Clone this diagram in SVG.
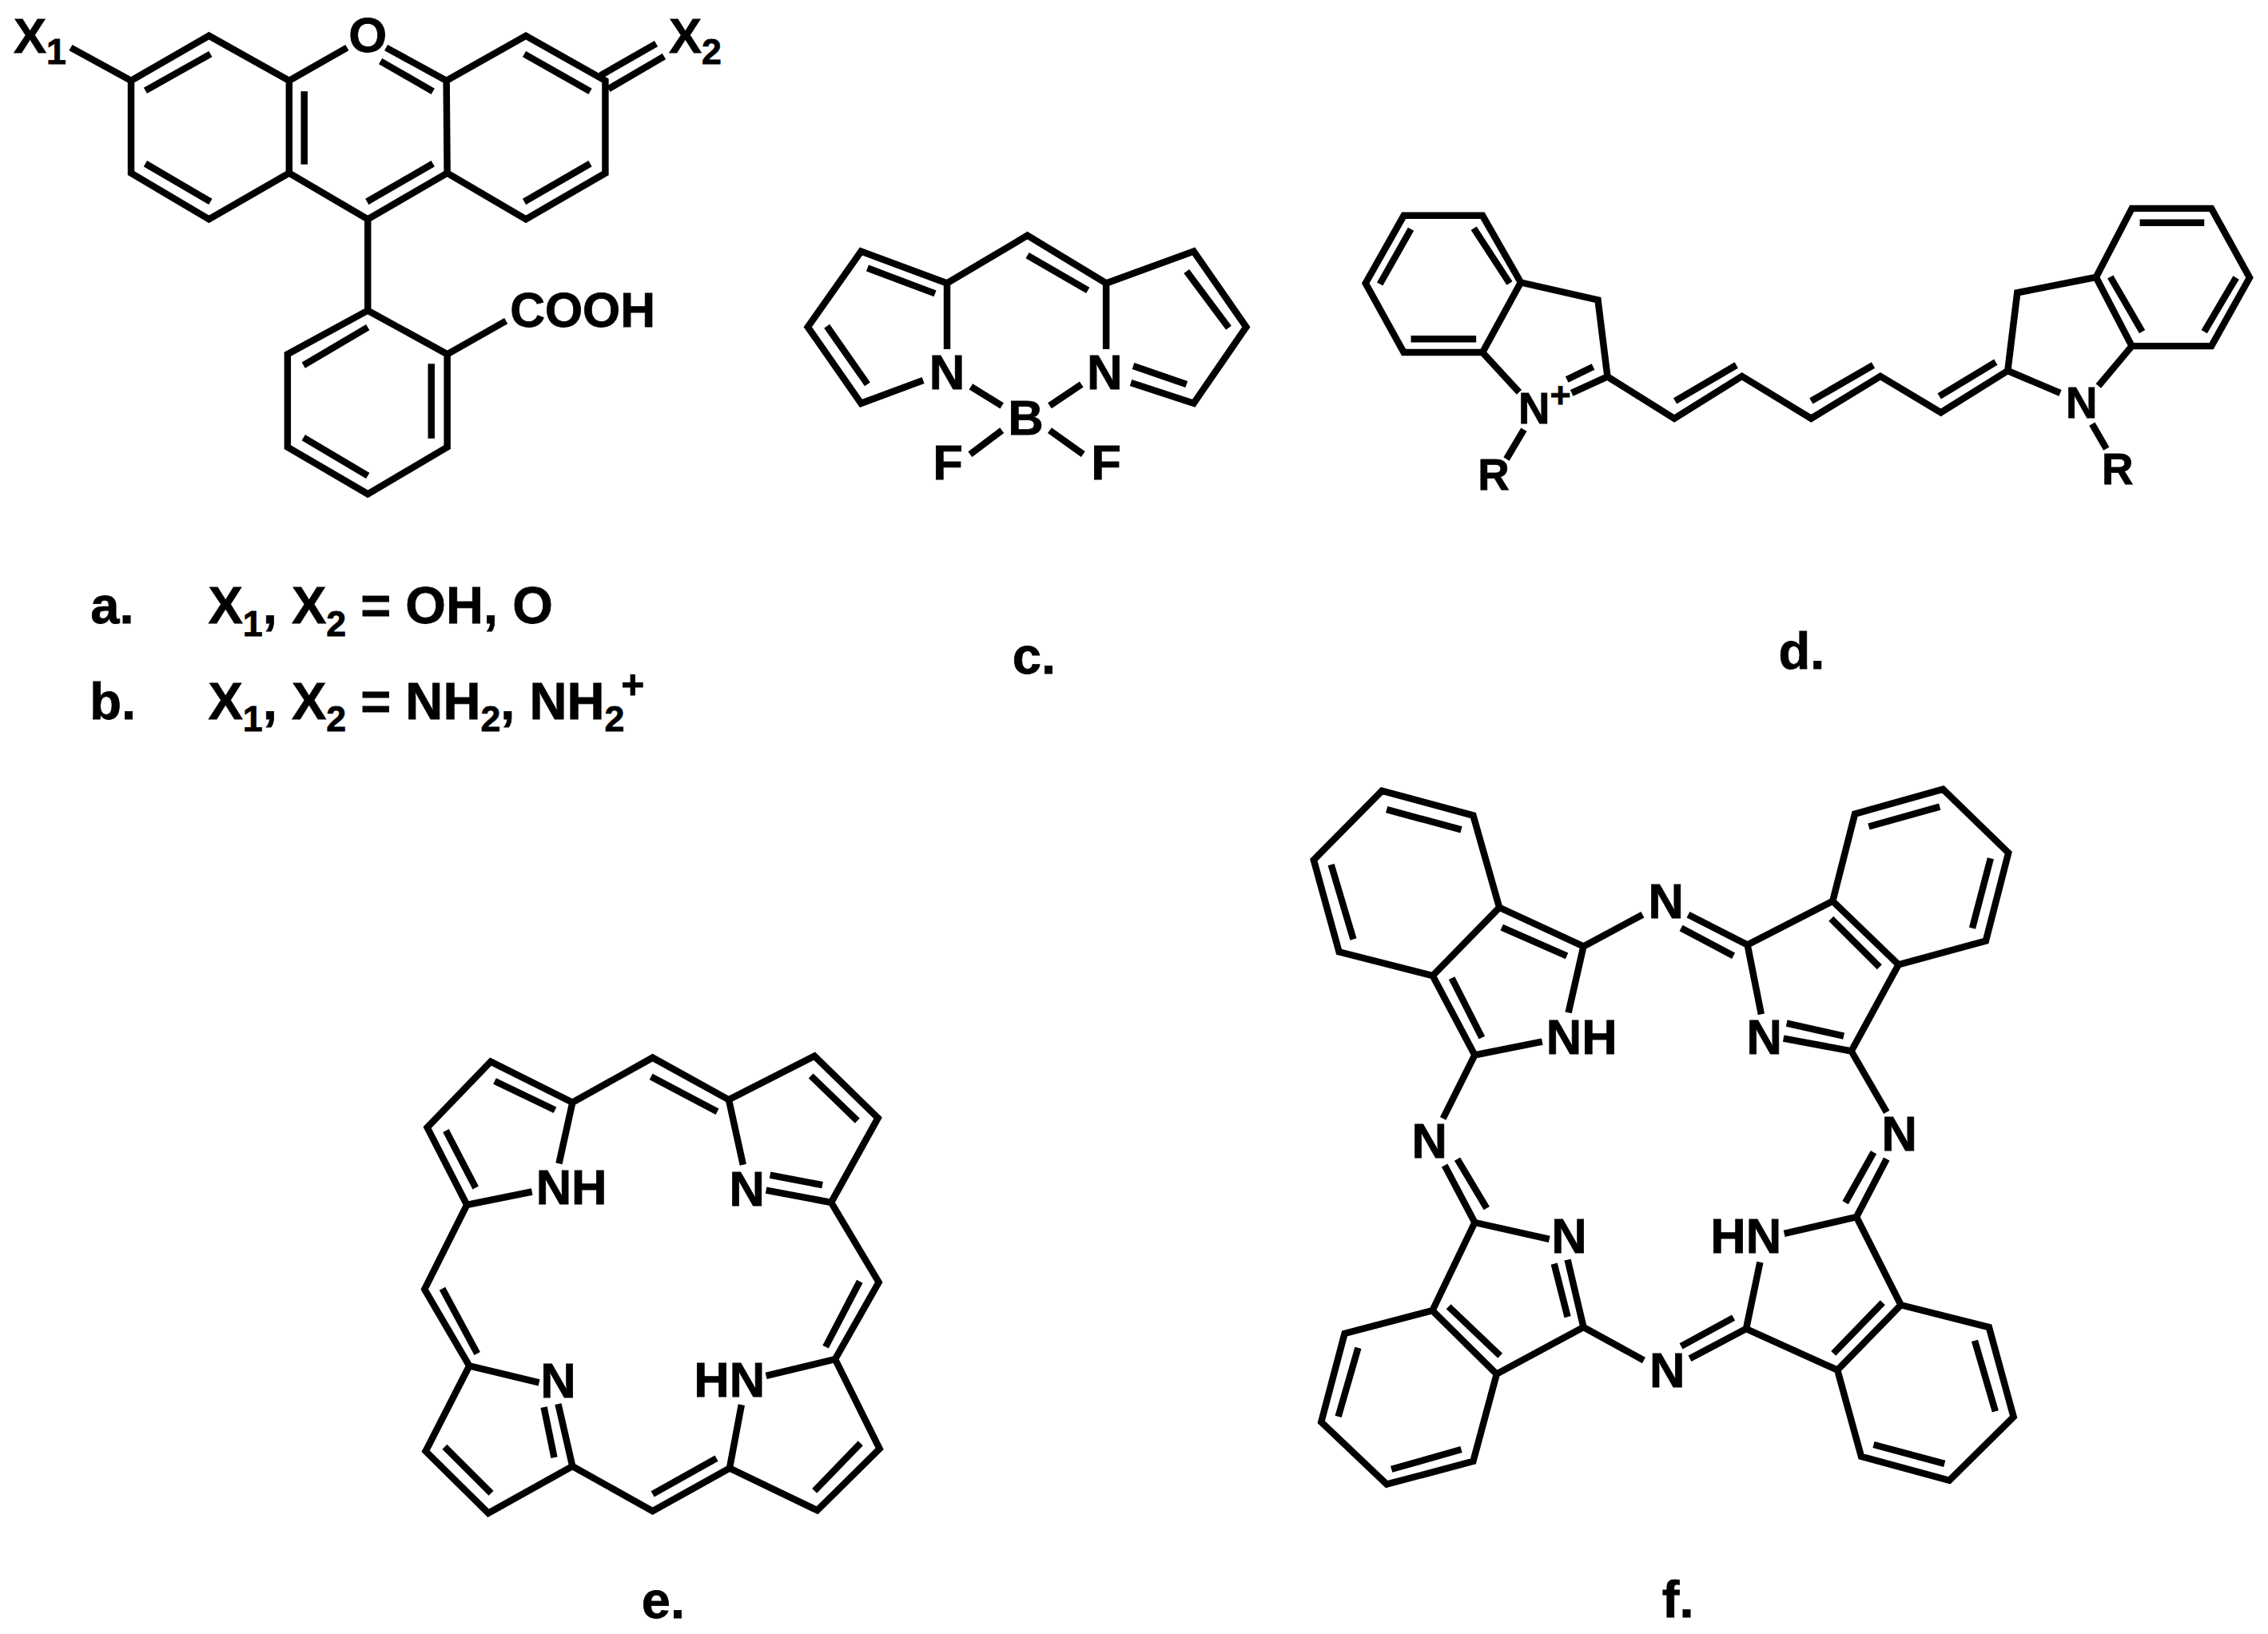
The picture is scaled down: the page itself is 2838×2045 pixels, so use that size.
<svg xmlns="http://www.w3.org/2000/svg" width="2838" height="2045" viewBox="0 0 2838 2045">
<style>
.b{fill:none;stroke:#000;stroke-width:8.5;stroke-linejoin:miter;stroke-linecap:butt}
text{font-family:"Liberation Sans",Arial,sans-serif;font-weight:700;fill:#000;stroke:#000;stroke-width:.8;font-size:62px}
.m{text-anchor:middle}
.c{font-size:65.5px}
.d{font-size:55px}
.s{font-size:45px}
.p{font-size:50px}
.h{font-size:61px}
</style>
<rect width="2838" height="2045" fill="#fff"/>
<g id="compound-a" transform="scale(.994)">
<path class="b" d="M89 60L165 101.5L263 45L364 101.5L437 60M486 60L562 101.5L662 45L762 101.5L762 218L662 276L563 218L463 276L364 218L263 276L165 218L165 101.5M364 101.5L364 218M562 101.5L563 218M463 276L463 391L563 446L563 563L463 622L362 563L362 446L463 391M563 446L637 404M183 114L265 68M479 77L545 115M660 68L743 115M756 95L826 55M766 112L836 71M660 254L743 206M462 254L545 206M383 115L383 207M183 206L265 254M382 460L463 412M543 458L543 552M382 551L463 599"/>
<text x="17" y="66">X<tspan class="s" dy="14">1</tspan></text>
<text x="463" y="65" class="m">O</text>
<text x="842" y="66">X<tspan class="s" dy="14">2</tspan></text>
<text x="642" y="411" class="h">COOH</text>
<text x="114" y="785" class="c">a.</text>
<text x="262" y="785" class="c">X<tspan class="s" dy="16">1</tspan><tspan dy="-16">, X</tspan><tspan class="s" dy="16">2</tspan><tspan dy="-16"> = OH, O</tspan></text>
<text x="113" y="905" class="c">b.</text>
<text x="262" y="905" class="c">X<tspan class="s" dy="16">1</tspan><tspan dy="-16">, X</tspan><tspan class="s" dy="16">2</tspan><tspan dy="-16"> = NH</tspan><tspan class="s" dy="16">2</tspan><tspan dy="-16">, NH</tspan><tspan class="s" dy="16">2</tspan><tspan class="p" dx="-4" dy="-42">+</tspan></text>
</g>
<g id="compound-c" transform="translate(4.13,.99) scale(.9957)">
<path class="b" d="M1186 438L1186 355L1078 315L1011 410L1078 506L1156 477M1186 355L1287 295L1386 355L1496 315L1562 410L1496 506L1417 480M1386 355L1386 438M1086 336L1171 368M1287 320L1363 364M1487 340L1540 411M1487 482L1420 459M1035 409L1086 482M1216 485L1255 509M1355 482L1315 509M1255 540L1215 570M1315 540L1357 570"/>
<text x="1186" y="488" class="m">N</text>
<text x="1384" y="488" class="m">N</text>
<text x="1285" y="545" class="m">B</text>
<text x="1187" y="602" class="m">F</text>
<text x="1386" y="602" class="m">F</text>
<text x="1268" y="846" class="c">c.</text>
</g>
<g id="compound-d" transform="translate(4.13,.99) scale(.9957)">
<path class="b" d="M1907 354L1859 270L1760 270L1712 355L1760 442L1859 442L1907 354L2004 376L2016 472.5L2100 525L2185 472L2272 525L2359 472L2435 517.5L2519 465L2531 367L2630 347.5L2675 261L2775 261L2823 348L2775 434L2675 434L2630 347.5M1859 442L1905 492M2016 472.5L1971 493M1998 460L1965 476M1911 539L1889 576M1730 356L1769 287M1848 286L1893 355M1769 425L1851 425M2101 503L2178 458M2272 503L2350 458M2433 497L2504 454M2519 465L2585 493M2633 484L2675 434M2625 532L2643 563M2685 279L2766 279M2648 347L2688 416M2766 416L2806 348"/>
<text x="1904" y="531" class="d">N<tspan class="s" dy="-20">+</tspan></text>
<text x="1873" y="615" class="m d">R</text>
<text x="2612" y="524" class="m d">N</text>
<text x="2657" y="608" class="m d">R</text>
<text x="2231" y="840" class="c">d.</text>
</g>
<g id="compound-e" transform="translate(3.36,8.96) scale(.993)">
<path class="b" d="M667 1493L585 1509.5L535 1412L615 1329L718 1380.5L819 1324L915 1377L1023 1322L1103 1400L1044 1506.5L962 1491M718 1380.5L701 1457.5M915 1377L933 1459M1044 1506.5L1104 1607L1049 1704L962 1725M1049 1704L1105 1817L1026.5 1894.5L916 1841.5L819 1895.5L718 1839L612 1898L533 1820L588 1712.5L676 1733.6M916 1841.5L931 1761.5M718 1839L700 1760.5M588 1712.5L531.6 1616L585 1509.5M620 1353.5L696 1390M558.5 1416L596 1488M817 1348L900.5 1392M1018.5 1347L1077 1403.5M1033 1484.5L967 1472M1080 1606L1037 1688.5M1081 1810L1023 1870M899.5 1829L819 1874M695 1828L682 1764.5M615.5 1873L557 1814.5M598 1697L554 1615"/>
<text x="672" y="1509">NH</text>
<text x="938" y="1510.5" class="m">N</text>
<text x="871" y="1751">HN</text>
<text x="700" y="1752" class="m">N</text>
<text x="805" y="2030" class="c">e.</text>
</g>
<g id="compound-f" transform="translate(11.34,6.72) scale(.993)">
<path class="b" d="M1932 1306L1847 1323L1794 1223L1676 1193L1644 1077L1730 990L1845 1021L1878 1137L1794 1223M1878 1137L1984 1186L1965 1269.5M1847 1323L1807 1403M1984 1186L2058.5 1146M2116 1146L2190.6 1184L2298 1129L2326 1019L2437 988L2519.5 1068L2491 1179L2381 1209L2298 1129M2381 1209L2321.5 1318L2236 1302M2190.6 1184L2208 1271.6M2321.5 1318L2366 1395M2366 1454L2328 1527L2237 1548M2328 1527L2384 1638L2304 1720L2189 1668L2206.5 1584M2384 1638L2495 1666L2526 1779L2445 1859L2334 1829L2304 1720M2189 1668L2118 1705.5M2060 1707.7L1984 1666L1874.6 1725L1845 1835L1736 1864L1653.5 1785.5L1683 1674L1793.6 1645L1874.6 1725M1793.6 1645L1847 1534L1941 1555M1984 1666L1964 1581M1847 1534L1809 1462M1736 1013.5L1830 1039M1666 1083L1694 1177M1881 1162L1963 1198M1818 1226L1856 1301M2107 1163L2173 1198M2343.5 1035L2433 1010M2497 1075L2474 1163M2357 1212L2296 1151M2312 1299L2240 1283M2349.6 1445.5L2314 1509M2361 1635L2299 1699M2349.6 1814L2439 1838M2503 1772L2477 1683M2173 1654L2107 1690M1830 1820L1742 1845M1675 1778.6L1700 1692M1814 1640L1879 1702M1964 1653L1947 1586M1825 1454L1862 1516"/>
<text x="1937" y="1322">NH</text>
<text x="2088" y="1150" class="m">N</text>
<text x="2212" y="1322" class="m">N</text>
<text x="2382" y="1443.4" class="m">N</text>
<text x="2144" y="1572">HN</text>
<text x="1966" y="1572" class="m">N</text>
<text x="2089.5" y="1741" class="m">N</text>
<text x="1790" y="1452" class="m">N</text>
<text x="2083" y="2031" class="c">f.</text>
</g>
</svg>
